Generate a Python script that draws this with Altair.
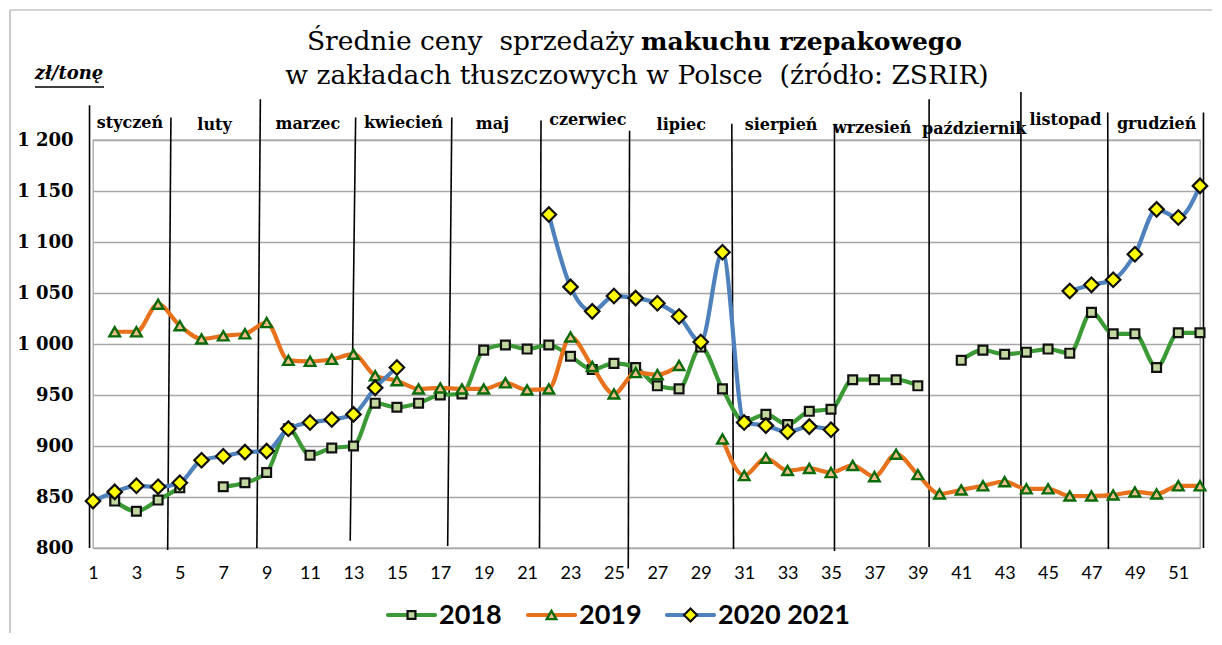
import altair as alt
import pandas as pd

# ---------------- data ----------------
weeks = list(range(1, 53))
series_names = ["2018", "2019", "2020 2021"]

s2018 = [None, 846, 836, 847, 859, None, 860, 864, 874, 917,
         891, 898, 900, 942, 938, 942, 950, 951, 994, 999,
         995, 999, 988, 975, 981, 977, 959, 956, 997, 956,
         924, 931, 921, 934, 936, 965, 965, 965, 959, None,
         984, 994, 990, 992, 995, 991, 1031, 1010, 1010, 977, 1011, 1011]
s2019 = [None, 1012, 1012, 1039, 1018, 1005, 1008, 1010, 1021, 984,
         983, 985, 990, 969, 964, 956, 957, 956, 956, 962,
         955, 956, 1007, 978, 951, 972, 970, 979, None, 907,
         871, 888, 876, 878, 874, 881, 870, 892, 872, 853,
         857, 861, 865, 858, 858, 851, 851, 852, 855, 853, 861, 861]
s2020 = [846, 855, 861, 860, 864, 886, 890, 894, 895, 917,
         923, 926, 931, 957, 977, None, None, None, None, None,
         None, 1127, 1056, 1032, 1047, 1045, 1040, 1027, 1002, 1090,
         923, 920, 914, 919, 916, None, None, None, None, None,
         None, None, None, None, None, 1052, 1058, 1063, 1088, 1132, 1124, 1155]

month_names = ["styczeń", "luty", "marzec", "kwiecień", "maj", "czerwiec",
               "lipiec", "sierpień", "wrzesień", "październik", "listopad", "grudzień"]
month_label_week = [2.7, 6.6, 10.9, 15.3, 19.4, 23.8, 28.1, 32.7, 36.9, 41.6, 45.8, 50.0]
month_label_value = [1217, 1215, 1216, 1217, 1216, 1220, 1215, 1215, 1212, 1211, 1220, 1216]

sep_week_top = [0.84, 4.59, 8.71, 13.10, 17.53, 21.64, 25.72, 30.43, 35.16, 39.52, 43.75, 47.75, 52.16]
sep_week_bottom = [0.84, 4.44, 8.55, 12.85, 17.34, 21.57, 25.66, 30.51, 35.16, 39.52, 43.75, 47.78, 52.16]
sep_value_top = [1234, 1222, 1240, 1222, 1222, 1219, 1209, 1216, 1216, 1240, 1247, 1227, 1227]
sep_value_bottom = [800, 798, 800, 807, 802, 800, 780, 799, 797, 801, 800, 799, 800]

x_ticks = list(range(1, 52, 2))
y_ticks = list(range(800, 1201, 50))

title_regular = "Średnie ceny \u00a0sprzedaży"
title_bold = "makuchu rzepakowego"
title_line2 = "w zakładach tłuszczowych w Polsce \u00a0(źródło: ZSRIR)"
unit_label = "zł/tonę"

# ---------------- build tables ----------------
rows = []
for name, vals in zip(series_names, [s2018, s2019, s2020]):
    seg = 0
    prev = None
    for w, v in zip(weeks, vals):
        if v is None:
            if prev is not None:
                seg += 1
            prev = None
            continue
        rows.append({"series": name, "week": w, "value": v, "seg": seg})
        prev = v
df = pd.DataFrame(rows)

months_df = pd.DataFrame({"name": month_names, "wk": month_label_week, "val": month_label_value})
seps_df = pd.DataFrame({"xt": sep_week_top, "xb": sep_week_bottom,
                        "yt": sep_value_top, "yb": sep_value_bottom})

styles = {
    "2018": dict(line="#3c9a36", shape="square", fill="#c3d8a0", stroke="#111111", size=78, sw=2.2),
    "2019": dict(line="#e8711d", shape="triangle-up", fill="#f6bf8e", stroke="#0b6b0b", size=112, sw=2.4),
    "2020 2021": dict(line="#4f81bd", shape="diamond", fill="#ffff00", stroke="#111111", size=210, sw=2.2),
}

xs = alt.Scale(domain=[1, 52], nice=False, zero=False)
ys = alt.Scale(domain=[800, 1200], nice=False, zero=False)
x_axis = alt.Axis(values=x_ticks, title=None, grid=False, ticks=False, domain=False,
                  labelFont="Lato", labelFontSize=18, labelColor="#000000",
                  labelPadding=16, labelFlush=False, labelOverlap=False)
y_axis = alt.Axis(values=y_ticks, title=None, grid=True, gridColor="#a6a6a6", gridWidth=1.3,
                  ticks=False, domain=False, labelFont="DejaVu Serif", labelFontWeight="bold",
                  labelFontSize=18, labelColor="#000000", labelPadding=20,
                  labelExpr="datum.value >= 1000 ? '1 ' + format(datum.value - 1000, '03d') : format(datum.value, 'd')")

X = alt.X("week:Q", scale=xs, axis=x_axis)
Y = alt.Y("value:Q", scale=ys, axis=y_axis)

layers = []

seps = alt.Chart(seps_df).mark_rule(color="#000000", strokeWidth=1.6).encode(
    x=alt.X("xt:Q", scale=xs, axis=x_axis), x2="xb:Q",
    y=alt.Y("yt:Q", scale=ys, axis=y_axis), y2="yb:Q")
layers.append(seps)

for name in series_names:
    st = styles[name]
    d = df[df.series == name]
    line = alt.Chart(d).mark_line(color=st["line"], strokeWidth=4.2, interpolate="monotone",
                                  strokeCap="round", strokeJoin="round").encode(
        x=X, y=Y, detail="seg:N")
    pts = alt.Chart(d).mark_point(shape=st["shape"], fill=st["fill"], stroke=st["stroke"],
                                  strokeWidth=st["sw"], size=st["size"], opacity=1,
                                  fillOpacity=1).encode(x=X, y=Y)
    layers += [line, pts]

month_text = alt.Chart(months_df).mark_text(font="DejaVu Serif", fontWeight="bold", fontSize=16,
                                            align="center", baseline="middle", color="#000000").encode(
    x=alt.X("wk:Q", scale=xs, axis=x_axis), y=alt.Y("val:Q", scale=ys, axis=y_axis), text="name:N")
layers.append(month_text)

one = pd.DataFrame({"k": [0]})

def txt(s, x, y, **kw):
    return alt.Chart(one).mark_text(text=s, baseline="middle", color="#000000", **kw).encode(
        x=alt.value(x), y=alt.value(y))

layers.append(txt(title_regular, 541, -98, align="right", font="DejaVu Serif", fontSize=26.5))
layers.append(txt(title_bold, 548, -98, align="left", font="DejaVu Serif", fontSize=25, fontWeight="bold"))
layers.append(txt(title_line2, 544, -64, align="center", font="DejaVu Serif", fontSize=26.5))
layers.append(txt(unit_label, -24, -66, align="center", font="DejaVu Serif", fontSize=18,
                  fontWeight="bold", fontStyle="italic"))
layers.append(alt.Chart(one).mark_rule(color="#000000", strokeWidth=1.3).encode(
    x=alt.value(-58), x2=alt.value(11), y=alt.value(-53)))

# frame (top and left edges)
layers.append(alt.Chart(one).mark_rule(color="#a6a6a6", strokeWidth=1.2).encode(
    x=alt.value(-83), x2=alt.value(1125), y=alt.value(-130)))
layers.append(alt.Chart(one).mark_rule(color="#a6a6a6", strokeWidth=1.2).encode(
    x=alt.value(-83), y=alt.value(-130), y2=alt.value(520)))

# manual legend
leg_line_x = [295, 435, 574]
leg_len = 47
for i, name in enumerate(series_names):
    st = styles[name]
    x0 = leg_line_x[i]
    layers.append(alt.Chart(one).mark_rule(color=st["line"], strokeWidth=4.2, strokeCap="round").encode(
        x=alt.value(x0), x2=alt.value(x0 + leg_len), y=alt.value(475)))
    layers.append(alt.Chart(one).mark_point(shape=st["shape"], fill=st["fill"], stroke=st["stroke"],
                                            strokeWidth=st["sw"], size=st["size"] * 0.8, opacity=1,
                                            fillOpacity=1).encode(
        x=alt.value(x0 + leg_len / 2), y=alt.value(475)))
    layers.append(txt(name, x0 + leg_len + 4, 476, align="left", font="Lato", fontSize=27, fontWeight="bold"))

chart = alt.layer(*layers).properties(
    width=1107, height=408,
    autosize=alt.AutoSizeParams(type="none"),
    padding={"left": 85, "top": 132, "right": 12, "bottom": 85},
    background="#ffffff",
).configure_view(stroke="#a6a6a6", strokeWidth=1.3)

chart.save("out.html", embed_options={"renderer": "svg", "actions": False})
